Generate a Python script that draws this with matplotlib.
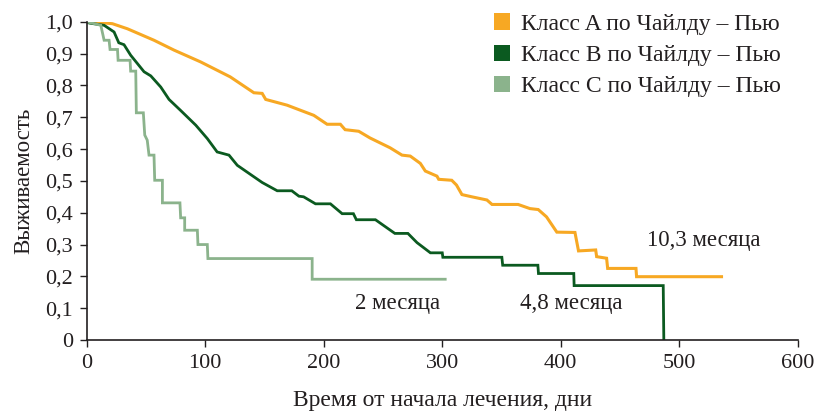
import matplotlib
matplotlib.use("Agg")
import matplotlib.pyplot as plt
from matplotlib.patches import Patch
from matplotlib.ticker import FuncFormatter

# Class A (orange)
tA = [0, 10, 21.6, 34.3, 56.7, 73.6, 96, 121, 141, 148, 151, 169, 191.6, 202.8, 214, 218, 229.5, 239, 256, 266,
      273, 281.5, 285.7, 295.5, 297, 308, 312, 316.6, 325, 337.7, 342, 364, 374, 381, 388, 396.7, 412, 415,
      429.5, 430.3, 438.7, 439.6, 463.5, 464, 535.7]
sA = [1.0, 0.998, 0.994, 0.978, 0.942, 0.911, 0.874, 0.827, 0.777, 0.775, 0.756, 0.738, 0.706, 0.678, 0.678,
      0.661, 0.656, 0.635, 0.604, 0.581, 0.578, 0.555, 0.531, 0.515, 0.505, 0.502, 0.487, 0.457, 0.450, 0.440,
      0.426, 0.426, 0.413, 0.410, 0.387, 0.339, 0.338, 0.280, 0.283, 0.262, 0.257, 0.225, 0.225, 0.199, 0.199]

# Class B (dark green)
tB = [0, 2, 14.6, 23, 27, 31.4, 37, 48.3, 54, 62.4, 69.4, 79, 92, 101.7, 110, 120, 127, 148, 160.7, 173, 179,
      183, 193, 205.6, 215.5, 225, 227.5, 243.6, 260, 271, 278.7, 290, 300, 300.5, 350.3, 351, 380.7, 381.2,
      411, 411.3, 486.5, 487]
sB = [1.0, 0.996, 0.989, 0.968, 0.934, 0.928, 0.895, 0.843, 0.830, 0.795, 0.756, 0.722, 0.675, 0.633, 0.591,
      0.581, 0.549, 0.495, 0.469, 0.469, 0.452, 0.450, 0.428, 0.428, 0.397, 0.397, 0.378, 0.378, 0.335, 0.335,
      0.306, 0.274, 0.274, 0.260, 0.260, 0.235, 0.235, 0.209, 0.209, 0.171, 0.171, 0.0]

# Class C (light green)
tC = [0, 11.8, 14.6, 18.8, 19.6, 25.9, 26.4, 36.5, 37, 41.3, 41.8, 47.7, 48.9, 51, 52.5, 56.7, 57.3, 63.8,
      63.8, 78.6, 79.2, 82.6, 82.6, 93.3, 93.8, 101.7, 102.2, 190.2, 190.2, 302.5]
sC = [1.0, 0.989, 0.942, 0.942, 0.913, 0.913, 0.879, 0.879, 0.845, 0.845, 0.714, 0.714, 0.644, 0.628, 0.581,
      0.581, 0.502, 0.502, 0.431, 0.431, 0.384, 0.384, 0.345, 0.345, 0.300, 0.300, 0.256, 0.256, 0.191, 0.191]

labels = ["Класс A по Чайлду – Пью", "Класс B по Чайлду – Пью", "Класс C по Чайлду – Пью"]
medians = ["10,3 месяца", "4,8 месяца", "2 месяца"]
median_pos = [(472.5, 0.312), (365.7, 0.116), (226.7, 0.116)]
xticks = [0, 100, 200, 300, 400, 500, 600]
yticks = [0, 0.1, 0.2, 0.3, 0.4, 0.5, 0.6, 0.7, 0.8, 0.9, 1.0]

colors = ["#F7A823", "#0B5A20", "#8BB38C"]
txtc = '#231F20'

plt.rcParams['font.family'] = ['Liberation Serif', 'DejaVu Serif']
fig = plt.figure(figsize=(8.19, 4.19), dpi=100)
ax = fig.add_axes([0.106, 0.1885, 0.868, 0.7595])

ax.plot(tA, sA, color=colors[0], lw=2.2, solid_joinstyle='miter')
ax.plot(tB, sB, color=colors[1], lw=2.0, solid_joinstyle='miter')
ax.plot(tC, sC, color=colors[2], lw=2.0, solid_joinstyle='miter')

ax.set_xlim(0, 600)
ax.set_ylim(0, 1.0)
ax.set_xticks(xticks)
ax.set_yticks(yticks)
ax.yaxis.set_major_formatter(FuncFormatter(lambda v, p: "0" if abs(v) < 1e-9 else f"{v:.1f}".replace('.', ',')))
ax.tick_params(direction='out', length=5, width=1, labelsize=16, colors=txtc, pad=5)
for s in ['top', 'right']:
    ax.spines[s].set_visible(False)
for s in ['left', 'bottom']:
    ax.spines[s].set_linewidth(1.2)
    ax.spines[s].set_color(txtc)

ax.set_xlabel("Время от начала лечения, дни", fontsize=17, color=txtc, labelpad=12)
ax.set_ylabel("Выживаемость", fontsize=16.5, color=txtc, labelpad=8)

for txt, (x, y) in zip(medians, median_pos):
    ax.text(x, y, txt, fontsize=16.5, color=txtc, ha='left', va='center')

handles = [Patch(facecolor=c, edgecolor='none') for c in colors]
leg = fig.legend(handles, labels, loc='upper left', bbox_to_anchor=(494 / 819, 1 - 13.5 / 419),
                 bbox_transform=fig.transFigure, frameon=False, borderpad=0, borderaxespad=0,
                 fontsize=17, handlelength=0.68, handleheight=0.68, handletextpad=0.47, labelspacing=0.41)
for t in leg.get_texts():
    t.set_color(txtc)

fig.savefig("out.png", dpi=100)
